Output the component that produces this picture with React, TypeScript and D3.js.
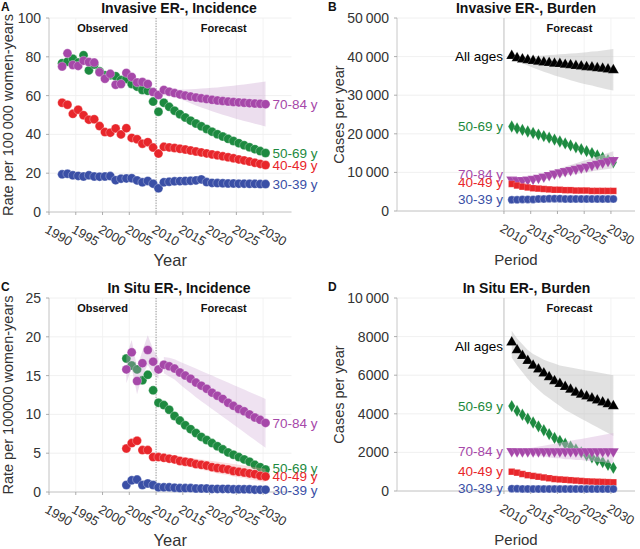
import React from 'react';
import * as d3 from 'd3';

const FONT = "'Liberation Sans', Arial, Helvetica, sans-serif";

// ---------- years ----------
const obsYearsA = d3.range(1992, 2011);
const obsYearsC = d3.range(2004, 2011);
const fcYears = d3.range(2011, 2031);
const xTickYears = [1990, 1995, 2000, 2005, 2010, 2015, 2020, 2025, 2030];
const xTickYearsBurden = [2010, 2015, 2020, 2025, 2030];

// ---------- tick values ----------
const yTicksA = [0, 20, 40, 60, 80, 100];
const yTicksC = [0, 5, 10, 15, 20, 25];
const yTicksB = [0, 10000, 20000, 30000, 40000, 50000];
const yTicksD = [0, 2000, 4000, 6000, 8000, 10000];

// ---------- labels ----------
const ageLabels = { all: 'All ages', g5069: '50-69 y', g7084: '70-84 y', g4049: '40-49 y', g3039: '30-39 y' };

// ---------- Panel A: Invasive ER-, incidence ----------
const purpleObsA = [75, 81.8, 75.8, 75.3, 78, 77.3, 77, 72, 68.7, 71.2, 65.6, 66, 71.7, 69.6, 66.8, 67, 66, 61.8, 60.3];
const greenObsA = [76.7, 77.5, 79, 77, 80.8, 73, 76, 72.5, 70.5, 70.5, 70, 68, 68.5, 66, 64.6, 62.9, 62.5, 56.9, 51.7];
const redObsA = [56.3, 55.3, 50.6, 52.7, 49.9, 47.6, 47.8, 44.3, 41.2, 40.9, 43.1, 40, 43.2, 38.2, 37.5, 35.2, 36, 33.2, 30.1];
const blueObsA = [19.4, 19.7, 18.9, 18.6, 18.3, 18.9, 18.3, 18.2, 18.3, 18.5, 16.4, 17.2, 17.3, 17.4, 16.3, 15.3, 16.0, 14.6, 12.2];

const purpleFcA = [62.9, 62.0, 61.3, 60.6, 60.0, 59.5, 59.0, 58.6, 58.2, 57.8, 57.5, 57.2, 56.9, 56.7, 56.5, 56.3, 56.1, 55.9, 55.8, 55.6];
const purpleLoA = [62.0, 60.8, 59.6, 58.4, 57.2, 56.0, 54.9, 53.9, 52.9, 51.9, 51.0, 50.1, 49.3, 48.5, 47.7, 46.9, 46.2, 45.5, 44.8, 44.1];
const purpleHiA = [63.6, 63.4, 63.3, 63.2, 63.2, 63.3, 63.4, 63.6, 63.8, 64.0, 64.2, 64.5, 64.8, 65.1, 65.4, 65.7, 66.1, 66.5, 66.9, 67.3];
const greenFcA = [56.3, 54.2, 52.2, 50.4, 48.7, 47.1, 45.6, 44.2, 42.8, 41.4, 40.1, 38.9, 37.7, 36.6, 35.5, 34.4, 33.4, 32.4, 31.4, 30.4];
const redFcA = [33.6, 33.3, 33.0, 32.6, 32.2, 31.7, 31.2, 30.7, 30.2, 29.7, 29.2, 28.7, 28.2, 27.7, 27.1, 26.6, 26.0, 25.4, 24.8, 24.2];
const blueFcA = [15.3, 15.6, 15.8, 15.9, 16.0, 16.1, 16.3, 16.8, 15.4, 15.0, 14.9, 14.8, 14.7, 14.7, 14.6, 14.6, 14.5, 14.5, 14.4, 14.4];

// ---------- Panel C: In situ ER-, incidence ----------
const purpleObsC = [15.8, 18.0, 14.3, 16.6, 18.3, 16.8, 15.8];
const purpleObsLoC = [14.0, 16.0, 12.6, 15.0, 16.4, 15.2, 14.6];
const purpleObsHiC = [17.6, 19.6, 16.0, 18.2, 20.2, 18.4, 17.2];
const greenObsC = [17.2, 16.3, 15.8, 14.4, 15.1, 13.1, 11.5];
const redObsC = [5.6, 6.3, 6.6, 5.4, 5.4, 4.5, 4.5];
const blueObsC = [0.9, 1.5, 1.6, 0.9, 1.1, 0.9, 0.6];

const purpleFcC = [16.4, 16.2, 15.9, 15.4, 15.0, 14.6, 14.1, 13.7, 13.3, 12.8, 12.4, 12.0, 11.5, 11.1, 10.7, 10.4, 10.0, 9.6, 9.3, 8.9];
const purpleLoC = [15.3, 14.9, 14.5, 13.9, 13.3, 12.8, 12.2, 11.7, 11.2, 10.7, 10.2, 9.7, 9.2, 8.7, 8.2, 7.7, 7.2, 6.7, 6.2, 5.7];
const purpleHiC = [17.4, 17.3, 17.1, 16.8, 16.5, 16.2, 15.9, 15.6, 15.3, 15.0, 14.7, 14.4, 14.1, 13.8, 13.5, 13.2, 12.9, 12.6, 12.3, 12.0];
const greenFcC = [11.2, 10.6, 9.8, 9.2, 8.6, 8.1, 7.6, 7.1, 6.7, 6.3, 5.9, 5.5, 5.1, 4.8, 4.5, 4.2, 3.9, 3.5, 3.2, 2.9];
const redFcC = [4.4, 4.3, 4.2, 4.0, 3.9, 3.8, 3.6, 3.5, 3.4, 3.2, 3.1, 3.0, 2.9, 2.7, 2.6, 2.5, 2.4, 2.3, 2.1, 2.0];
const redLoC = [4.0, 3.8, 3.7, 3.5, 3.3, 3.2, 3.0, 2.9, 2.7, 2.6, 2.4, 2.3, 2.2, 2.0, 1.9, 1.8, 1.6, 1.5, 1.4, 1.3];
const redHiC = [4.8, 4.8, 4.7, 4.6, 4.5, 4.4, 4.3, 4.2, 4.1, 4.0, 3.9, 3.8, 3.7, 3.6, 3.5, 3.4, 3.3, 3.2, 3.1, 3.0];
const blueFcC = [0.6, 0.6, 0.55, 0.5, 0.5, 0.5, 0.45, 0.45, 0.45, 0.4, 0.4, 0.4, 0.4, 0.35, 0.35, 0.35, 0.35, 0.3, 0.3, 0.3];

// ---------- Panel B: Invasive ER-, burden (cases) ----------
const allB = [40200, 39600, 39300, 39100, 38900, 38700, 38500, 38400, 38200, 38100, 37900, 37800, 37600, 37500, 37300, 37200, 37000, 36900, 36700, 36500];
const allHiB = [40300, 40200, 40100, 40100, 40100, 40200, 40300, 40400, 40500, 40600, 40700, 40800, 40900, 41000, 41100, 41300, 41400, 41600, 41800, 42000];
const allLoB = [39500, 38900, 38300, 37700, 37100, 36600, 36100, 35600, 35100, 34700, 34300, 33900, 33500, 33100, 32800, 32500, 32100, 31800, 31500, 31200];
const greenB = [21900, 21400, 21000, 20600, 20200, 19800, 19400, 19000, 18500, 18000, 17500, 17000, 16500, 16000, 15500, 15000, 14400, 13800, 13200, 12600];
const purpleB = [8100, 8000, 8000, 8100, 8300, 8600, 8900, 9300, 9700, 10000, 10300, 10600, 10900, 11200, 11500, 11900, 12200, 12500, 12900, 13200];
const purpleHiB = [8300, 8300, 8400, 8600, 8900, 9300, 9700, 10200, 10700, 11100, 11500, 11900, 12400, 12800, 13200, 13700, 14100, 14600, 15000, 15500];
const purpleLoB = [7900, 7700, 7600, 7600, 7700, 7900, 8100, 8400, 8700, 8900, 9200, 9400, 9600, 9800, 10000, 10300, 10500, 10700, 10900, 11100];
const redB = [7000, 6600, 6300, 6100, 5900, 5800, 5700, 5600, 5500, 5500, 5400, 5400, 5300, 5300, 5300, 5200, 5200, 5200, 5200, 5200];
const blueB = [2900, 2900, 3000, 3000, 3000, 3100, 3100, 3200, 3200, 3200, 3100, 3100, 3100, 3100, 3100, 3100, 3100, 3100, 3100, 3100];

// ---------- Panel D: In situ ER-, burden (cases) ----------
const allD = [7700, 7300, 7000, 6750, 6500, 6300, 6100, 5900, 5700, 5550, 5400, 5250, 5100, 5000, 4900, 4800, 4700, 4600, 4500, 4400];
const allHiD = [8300, 7900, 7600, 7300, 7100, 6950, 6800, 6700, 6600, 6500, 6450, 6400, 6350, 6300, 6250, 6200, 6150, 6100, 6050, 6000];
const allLoD = [6900, 6500, 6150, 5800, 5500, 5250, 5000, 4800, 4600, 4400, 4200, 4050, 3900, 3750, 3600, 3450, 3300, 3150, 3000, 2850];
const greenD = [4400, 4150, 3950, 3750, 3550, 3350, 3150, 2950, 2750, 2600, 2450, 2300, 2150, 2000, 1850, 1750, 1600, 1500, 1350, 1200];
const purpleD = [2060, 2050, 2050, 2050, 2050, 2050, 2050, 2050, 2050, 2050, 2050, 2050, 2050, 2050, 2050, 2050, 2050, 2050, 2050, 2050];
const purpleHiD = [2100, 2100, 2150, 2200, 2250, 2300, 2350, 2400, 2450, 2500, 2550, 2600, 2650, 2700, 2750, 2800, 2850, 2900, 2950, 3000];
const purpleLoD = [2000, 2000, 1950, 1900, 1850, 1800, 1800, 1750, 1700, 1700, 1650, 1650, 1600, 1600, 1550, 1550, 1500, 1500, 1450, 1450];
const redD = [1000, 950, 880, 820, 780, 740, 700, 660, 620, 600, 580, 560, 540, 520, 500, 490, 480, 470, 460, 450];
const blueD = [120, 120, 110, 110, 100, 100, 100, 100, 100, 100, 100, 100, 100, 100, 100, 100, 100, 100, 100, 100];

// ---------- colours ----------
const C_PURPLE = '#a648a9';
const C_GREEN = '#1d8a40';
const C_RED = '#e8262b';
const C_BLUE = '#3a4fa6';
const C_BLACK = '#000000';

type Band = { years: number[]; lo: number[]; hi: number[]; fill: string; opacity: number };
type Series = {
  color: string;
  shape: 'circle' | 'triUp' | 'triDown' | 'diamond' | 'square';
  obsYears?: number[];
  obs?: number[];
  fc: number[];
  bands?: Band[];
  label: string;
  labelDy: number;
};

type PanelProps = {
  letter: string;
  title: string;
  x0: number;
  x1: number;
  xMax: number;
  yTop: number;
  yBot: number;
  yMax: number;
  yTicks: number[];
  yFmt: (v: number) => string;
  yTitle: string;
  yTitleX: number;
  xTitle: string;
  xTitleSize: number;
  labelYears: number[];
  tickYears: number[];
  burden: boolean;
  series: Series[];
  titleX: number;
  topY: number;
};

const OFF = 0.45;

function symbolPath(shape: Series['shape'], size: number) {
  const t =
    shape === 'triUp' || shape === 'triDown'
      ? d3.symbolTriangle
      : shape === 'diamond'
      ? d3.symbolDiamond
      : shape === 'square'
      ? d3.symbolSquare
      : d3.symbolCircle;
  return d3.symbol().type(t).size(size)() || '';
}

function Panel(p: PanelProps) {
  const x = d3.scaleLinear().domain([1990, p.xMax]).range([p.x0, p.x1]);
  const y = d3.scaleLinear().domain([0, p.yMax]).range([p.yBot, p.yTop]);
  const px = (yr: number) => x(yr + OFF);
  const area = d3
    .area<[number, number, number]>()
    .x((d) => px(d[0]))
    .y0((d) => y(d[1]))
    .y1((d) => y(d[2]));
  const gridYears = p.burden ? xTickYearsBurden : xTickYears;
  const obsMid = (x(1990) + x(2010)) / 2;
  const fcMid = (x(2010) + p.x1) / 2;

  const renderMark = (s: Series, yr: number, v: number, key: string) => {
    const cx = px(yr);
    const cy = y(v);
    if (s.shape === 'circle') {
      const r = p.burden ? 4.0 : 4.5;
      return (
        <circle key={key} cx={cx} cy={cy} r={r} fill={s.color} stroke="#ffffff" strokeOpacity={0.5} strokeWidth={0.6} />
      );
    }
    const size = s.shape === 'diamond' ? 44 : s.shape === 'square' ? 42 : 52;
    const rot = s.shape === 'triDown' ? 180 : 0;
    return (
      <path
        key={key}
        d={symbolPath(s.shape, size)}
        transform={`translate(${cx},${cy}) rotate(${rot})`}
        fill={s.color}
        stroke="#ffffff"
        strokeOpacity={0.4}
        strokeWidth={0.4}
      />
    );
  };

  return (
    <g>
      <text x={p.x0 - (p.burden ? 69 : 48)} y={p.topY + 11} fontSize={12} fontWeight="bold" fill="#111">
        {p.letter}
      </text>
      <text x={p.titleX} y={p.topY + 12.5} textAnchor="middle" fontSize={14} fontWeight="bold" fill="#111">
        {p.title}
      </text>
      {/* grid */}
      {p.yTicks.map((t) => (
        <line key={'gy' + t} x1={p.x0} x2={p.x1} y1={y(t)} y2={y(t)} stroke="#ececec" strokeWidth={0.8} />
      ))}
      {gridYears.map((t) => (
        <line key={'gx' + t} x1={x(t)} x2={x(t)} y1={p.yTop} y2={p.yBot} stroke="#f0f0f0" strokeWidth={0.8} />
      ))}
      {/* 2010 divider */}
      {p.burden ? (
        <line x1={x(2010)} x2={x(2010)} y1={p.yTop} y2={p.yBot} stroke="#c4c4c4" strokeWidth={1} />
      ) : (
        <line x1={x(2010)} x2={x(2010)} y1={p.yTop} y2={p.yBot} stroke="#777" strokeWidth={0.8} strokeDasharray="1.2,1.4" />
      )}
      {/* axes */}
      <line x1={p.x0} x2={p.x1} y1={p.yBot} y2={p.yBot} stroke="#c8c8c8" strokeWidth={1} />
      <line x1={p.x0} x2={p.x0} y1={p.yTop} y2={p.yBot} stroke="#c8c8c8" strokeWidth={1} />
      {p.yTicks.map((t) => (
        <g key={'ty' + t}>
          <line x1={p.x0 - 3} x2={p.x0} y1={y(t)} y2={y(t)} stroke="#999" strokeWidth={0.8} />
          <text x={p.x0 - 8} y={y(t)} dy="0.36em" textAnchor="end" fontSize={14} fill="#333">
            {p.yFmt(t)}
          </text>
        </g>
      ))}
      {p.tickYears.map((t) => (
        <line key={'tx' + t} x1={x(t)} x2={x(t)} y1={p.yBot} y2={p.yBot + 3} stroke="#999" strokeWidth={0.8} />
      ))}
      {p.labelYears.map((t) => (
        <text
          key={'lx' + t}
          transform={`translate(${x(t) - 5},${p.yBot + 20}) rotate(30)`}
          fontSize={13}
          fill="#333"
        >
          {t}
        </text>
      ))}
      <text x={(p.x0 + p.x1) / 2} y={p.yBot + 54} textAnchor="middle" fontSize={p.xTitleSize} fill="#333">
        {p.xTitle}
      </text>
      <text
        transform={`translate(${p.yTitleX},${(p.yTop + p.yBot) / 2}) rotate(-90)`}
        textAnchor="middle"
        fontSize={14.5}
        fill="#333"
      >
        {p.yTitle}
      </text>
      {!p.burden && (
        <text x={obsMid} y={p.yTop + 14} textAnchor="middle" fontSize={11} fontWeight="bold" fill="#111">
          Observed
        </text>
      )}
      <text x={fcMid} y={p.yTop + 14} textAnchor="middle" fontSize={11} fontWeight="bold" fill="#111">
        Forecast
      </text>
      {/* series */}
      {p.series.map((s, si) => (
        <g key={'s' + si}>
          {(s.bands || []).map((b, bi) => (
            <path
              key={'b' + bi}
              d={area(b.years.map((yr, i) => [yr, b.lo[i], b.hi[i]] as [number, number, number])) || ''}
              fill={b.fill}
              fillOpacity={b.opacity}
            />
          ))}
          {s.obs && s.obsYears && s.obs.map((v, i) => renderMark(s, s.obsYears![i], v, 'o' + i))}
          {s.fc.map((v, i) => renderMark(s, fcYears[i], v, 'f' + i))}
          {p.burden ? (
            <text
              x={x(2010) - 1}
              y={y(s.fc[0]) + s.labelDy}
              dy="0.36em"
              textAnchor="end"
              fontSize={13.5}
              fill={s.color}
            >
              {s.label}
            </text>
          ) : (
            <text
              x={px(2030) + 7}
              y={y(s.fc[s.fc.length - 1]) + s.labelDy}
              dy="0.36em"
              fontSize={13.5}
              fill={s.color}
            >
              {s.label}
            </text>
          )}
        </g>
      ))}
    </g>
  );
}

const fmtPlain = (v: number) => String(v);
const fmtThin = (v: number) => (v >= 10000 ? d3.format(',')(v).replace(',', '\u2009') : String(v));

export default function App() {
  const seriesA: Series[] = [
    { color: C_GREEN, shape: 'circle', obsYears: obsYearsA, obs: greenObsA, fc: greenFcA, label: ageLabels.g5069, labelDy: 0 },
    {
      color: C_PURPLE,
      shape: 'circle',
      obsYears: obsYearsA,
      obs: purpleObsA,
      fc: purpleFcA,
      bands: [{ years: fcYears, lo: purpleLoA, hi: purpleHiA, fill: '#c9a0cf', opacity: 0.35 }],
      label: ageLabels.g7084,
      labelDy: 0,
    },
    { color: C_RED, shape: 'circle', obsYears: obsYearsA, obs: redObsA, fc: redFcA, label: ageLabels.g4049, labelDy: 0 },
    { color: C_BLUE, shape: 'circle', obsYears: obsYearsA, obs: blueObsA, fc: blueFcA, label: ageLabels.g3039, labelDy: 0 },
  ];
  const seriesC: Series[] = [
    { color: C_GREEN, shape: 'circle', obsYears: obsYearsC, obs: greenObsC, fc: greenFcC, label: ageLabels.g5069, labelDy: -1 },
    {
      color: C_PURPLE,
      shape: 'circle',
      obsYears: obsYearsC,
      obs: purpleObsC,
      fc: purpleFcC,
      bands: [
        { years: obsYearsC, lo: purpleObsLoC, hi: purpleObsHiC, fill: '#c9a0cf', opacity: 0.35 },
        { years: fcYears, lo: purpleLoC, hi: purpleHiC, fill: '#c9a0cf', opacity: 0.3 },
      ],
      label: ageLabels.g7084,
      labelDy: 0,
    },
    {
      color: C_RED,
      shape: 'circle',
      obsYears: obsYearsC,
      obs: redObsC,
      fc: redFcC,
      bands: [{ years: fcYears, lo: redLoC, hi: redHiC, fill: '#f3a0a0', opacity: 0.35 }],
      label: ageLabels.g4049,
      labelDy: 0,
    },
    { color: C_BLUE, shape: 'circle', obsYears: obsYearsC, obs: blueObsC, fc: blueFcC, label: ageLabels.g3039, labelDy: 0 },
  ];
  const seriesB: Series[] = [
    {
      color: C_BLACK,
      shape: 'triUp',
      fc: allB,
      bands: [{ years: fcYears, lo: allLoB, hi: allHiB, fill: '#bdbdbd', opacity: 0.45 }],
      label: ageLabels.all,
      labelDy: 0,
    },
    { color: C_GREEN, shape: 'diamond', fc: greenB, label: ageLabels.g5069, labelDy: 0 },
    {
      color: C_PURPLE,
      shape: 'triDown',
      fc: purpleB,
      bands: [{ years: fcYears, lo: purpleLoB, hi: purpleHiB, fill: '#cfc4d0', opacity: 0.55 }],
      label: ageLabels.g7084,
      labelDy: -6,
    },
    { color: C_RED, shape: 'square', fc: redB, label: ageLabels.g4049, labelDy: -2 },
    { color: C_BLUE, shape: 'circle', fc: blueB, label: ageLabels.g3039, labelDy: -1 },
  ];
  const seriesD: Series[] = [
    {
      color: C_BLACK,
      shape: 'triUp',
      fc: allD,
      bands: [{ years: fcYears, lo: allLoD, hi: allHiD, fill: '#bdbdbd', opacity: 0.45 }],
      label: ageLabels.all,
      labelDy: 4,
    },
    { color: C_GREEN, shape: 'diamond', fc: greenD, label: ageLabels.g5069, labelDy: 0 },
    {
      color: C_PURPLE,
      shape: 'triDown',
      fc: purpleD,
      bands: [{ years: fcYears, lo: purpleLoD, hi: purpleHiD, fill: '#d9b6dc', opacity: 0.45 }],
      label: ageLabels.g7084,
      labelDy: 0,
    },
    { color: C_RED, shape: 'square', fc: redD, label: ageLabels.g4049, labelDy: -1 },
    { color: C_BLUE, shape: 'circle', fc: blueD, label: ageLabels.g3039, labelDy: -1 },
  ];

  return (
    <svg
      width={640}
      height={549}
      viewBox="0 0 640 549"
      style={{ position: 'absolute', left: 0, top: 0, background: '#fff', fontFamily: FONT }}
    >
      <rect x={0} y={0} width={640} height={549} fill="#ffffff" />
      <Panel
        letter="A"
        title="Invasive ER-, Incidence"
        titleX={179}
        topY={0}
        x0={49}
        x1={291.5}
        xMax={2035.3}
        yTop={18}
        yBot={212}
        yMax={100}
        yTicks={yTicksA}
        yFmt={fmtPlain}
        yTitle={'Rate per 100\u2009000 women-years'}
        yTitleX={13}
        xTitle="Year"
        xTitleSize={16.5}
        labelYears={xTickYears}
        tickYears={xTickYears}
        burden={false}
        series={seriesA}
      />
      <Panel
        letter="B"
        title="Invasive ER-, Burden"
        titleX={526}
        topY={0}
        x0={397}
        x1={635}
        xMax={2034.5}
        yTop={18}
        yBot={211}
        yMax={50000}
        yTicks={yTicksB}
        yFmt={fmtThin}
        yTitle="Cases per year"
        yTitleX={344}
        xTitle="Period"
        xTitleSize={15}
        labelYears={xTickYearsBurden}
        tickYears={xTickYearsBurden}
        burden={true}
        series={seriesB}
      />
      <Panel
        letter="C"
        title="In Situ ER-, Incidence"
        titleX={179}
        topY={280}
        x0={49}
        x1={291.5}
        xMax={2035.3}
        yTop={298}
        yBot={492}
        yMax={25}
        yTicks={yTicksC}
        yFmt={fmtPlain}
        yTitle="Rate per 100000 women-years"
        yTitleX={13}
        xTitle="Year"
        xTitleSize={16.5}
        labelYears={xTickYears}
        tickYears={xTickYears}
        burden={false}
        series={seriesC}
      />
      <Panel
        letter="D"
        title="In Situ ER-, Burden"
        titleX={526.5}
        topY={280}
        x0={397}
        x1={635}
        xMax={2034.5}
        yTop={298}
        yBot={491}
        yMax={10000}
        yTicks={yTicksD}
        yFmt={fmtThin}
        yTitle="Cases per year"
        yTitleX={344}
        xTitle="Period"
        xTitleSize={15}
        labelYears={xTickYearsBurden}
        tickYears={xTickYearsBurden}
        burden={true}
        series={seriesD}
      />
    </svg>
  );
}
